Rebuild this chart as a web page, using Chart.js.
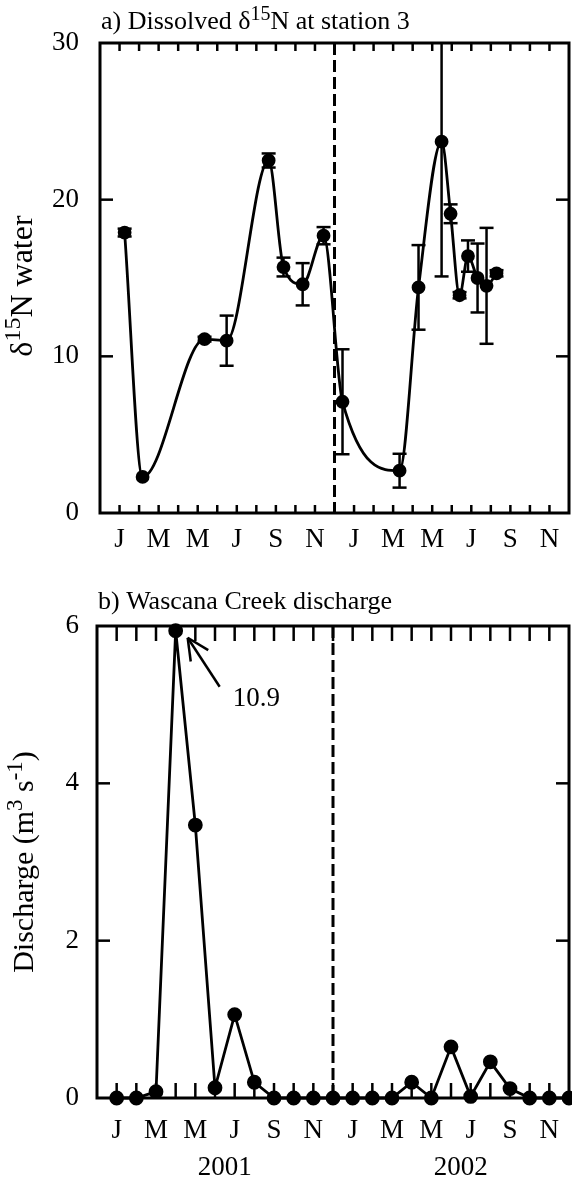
<!DOCTYPE html>
<html>
<head>
<meta charset="utf-8">
<script src="https://cdn.jsdelivr.net/npm/chart.js@4.4.1/dist/chart.umd.min.js"></script>
<style>
  html, body { margin: 0; padding: 0; background: #fff; }
  canvas { position: absolute; left: 0; }
  #g1 { top: 0; }
  #g2 { top: 565px; }
</style>
</head>
<body>
<canvas id="g1" width="572" height="565"></canvas>
<canvas id="g2" width="572" height="614"></canvas>
<script>
// months are counted from Jan 2001 (0) to Dec 2002 (23)
const monthLabels = ["J", "M", "M", "J", "S", "N"];
const years = ["2001", "2002"];

// a) dissolved d15N at station 3 (mean and error)
const d15nMonth = [0.26, 1.18, 4.35, 5.48, 7.63, 8.39, 9.37, 10.44, 11.41, 14.33, 15.3, 16.48, 16.94, 17.4, 17.83, 18.32, 18.78, 19.29];
const d15nValue = [17.9, 2.3, 11.1, 11.0, 22.5, 15.7, 14.6, 17.7, 7.1, 2.7, 14.4, 23.7, 19.1, 13.9, 16.4, 15.0, 14.5, 15.3];
const d15nError = [0.25, 0, 0.15, 1.6, 0.45, 0.6, 1.35, 0.55, 3.35, 1.08, 2.7, 8.6, 0.6, 0.2, 1.0, 2.2, 3.7, 0.2];
const d15nTicks = [0, 10, 20, 30];

// b) Wascana Creek discharge, one value per month
const dischargeMonth = [0, 1, 2, 3, 4, 5, 6, 7, 8, 9, 10, 11, 12, 13, 14, 15, 16, 17, 18, 19, 20, 21, 22, 23];
const discharge = [0, 0, 0.08, 10.9, 3.47, 0.13, 1.06, 0.2, 0, 0, 0, 0, 0, 0, 0, 0.2, 0, 0.65, 0.02, 0.46, 0.12, 0, 0, 0];
const dischargeTicks = [0, 2, 4, 6];
const dischargeMax = 6;

const FONT = '"Liberation Serif", "Times New Roman", serif';

function line(ctx, x1, y1, x2, y2) {
  ctx.beginPath();
  ctx.moveTo(x1, y1);
  ctx.lineTo(x2, y2);
  ctx.stroke();
}

// text with superscripts: parts = [[text, isSup], ...]
function drawRich(ctx, parts, x, y, size, center, supScale) {
  const supSize = Math.round(size * (supScale || 0.72));
  const widthOf = (p) => {
    ctx.font = (p[1] ? supSize : size) + "px " + FONT;
    return ctx.measureText(p[0]).width;
  };
  const total = parts.reduce((s, p) => s + widthOf(p), 0);
  let cx = center ? x - total / 2 : x;
  ctx.textAlign = "left";
  ctx.textBaseline = "alphabetic";
  parts.forEach((p) => {
    const w = widthOf(p);
    ctx.fillText(p[0], cx, p[1] ? y - size * 0.36 : y);
    cx += w;
  });
}

const framePlugin = {
  id: "frame",
  beforeDatasetsDraw(chart, args, opts) {
    const { ctx, chartArea: a, scales } = chart;
    const x = scales.x, y = scales.y;
    ctx.save();
    ctx.strokeStyle = "#000";
    ctx.lineWidth = 2.5;
    x.ticks.forEach((t) => {
      if (t.value <= x.min || t.value >= x.max) return;
      const px = x.getPixelForValue(t.value);
      line(ctx, px, a.bottom, px, a.bottom - opts.xTick);
      line(ctx, px, a.top, px, a.top + opts.xTick);
    });
    y.ticks.forEach((t) => {
      if (t.value <= y.min || t.value >= y.max) return;
      const py = y.getPixelForValue(t.value);
      line(ctx, a.left, py, a.left + opts.yTick, py);
      line(ctx, a.right, py, a.right - opts.yTick, py);
    });
    // year boundary
    ctx.lineWidth = 3;
    ctx.setLineDash([12, 5]);
    const sx = x.getPixelForValue(opts.split);
    line(ctx, sx, a.top, sx, a.bottom);
    ctx.setLineDash([]);
    ctx.strokeRect(a.left, a.top, a.right - a.left, a.bottom - a.top);
    ctx.restore();
  },
  afterDatasetsDraw(chart, args, opts) {
    if (!opts.errors) return;
    const { ctx, chartArea: a, scales } = chart;
    const x = scales.x, y = scales.y;
    ctx.save();
    ctx.beginPath();
    ctx.rect(a.left, a.top - 1, a.right - a.left, a.bottom - a.top + 2);
    ctx.clip();
    ctx.strokeStyle = "#000";
    ctx.lineWidth = 2.5;
    opts.errors.forEach((e, i) => {
      if (!e) return;
      const px = x.getPixelForValue(d15nMonth[i]);
      const hi = y.getPixelForValue(d15nValue[i] + e);
      const lo = y.getPixelForValue(d15nValue[i] - e);
      line(ctx, px, hi, px, lo);
      line(ctx, px - 7, hi, px + 7, hi);
      line(ctx, px - 7, lo, px + 7, lo);
    });
    ctx.restore();
  },
  afterDraw(chart, args, opts) {
    const { ctx, chartArea: a, scales } = chart;
    ctx.save();
    ctx.fillStyle = "#000";
    drawRich(ctx, opts.title, a.left + 1, opts.titleY, 26, false, 0.78);
    ctx.save();
    ctx.translate(opts.yTitleX, opts.yTitleY);
    ctx.rotate(-Math.PI / 2);
    drawRich(ctx, opts.yTitle, 0, 0, opts.yTitleSize, true, 0.75);
    ctx.restore();
    if (opts.years) {
      ctx.font = "27px " + FONT;
      ctx.textAlign = "center";
      ctx.textBaseline = "middle";
      years.forEach((yr, i) => {
        ctx.fillText(yr, scales.x.getPixelForValue(i * 12 + 5.5), opts.yearsY);
      });
    }
    if (opts.offscale) {
      // arrow to the peak that runs off the top of the axis
      const i = discharge.findIndex((v) => v > dischargeMax);
      const pt = chart.getDatasetMeta(0).data[i];
      const tx = pt.x + 12, ty = pt.y + 7;
      const bx = tx + 32, by = ty + 49;
      const ang = Math.atan2(by - ty, bx - tx);
      ctx.strokeStyle = "#000";
      ctx.lineWidth = 2.5;
      line(ctx, tx, ty, bx, by);
      [-0.45, 0.45].forEach((d) => {
        line(ctx, tx, ty, tx + 24 * Math.cos(ang + d), ty + 24 * Math.sin(ang + d));
      });
      ctx.font = "27px " + FONT;
      ctx.textAlign = "left";
      ctx.textBaseline = "alphabetic";
      ctx.fillText(discharge[i].toFixed(1), bx + 13, by + 19);
    }
    ctx.restore();
  },
};

const monthTick = (v) => (v >= 0 && v % 2 === 0 ? monthLabels[(v % 12) / 2] : "");

// tick marks are drawn by the frame plugin; tickLength only offsets the labels
function axes(yMin, yMax, yTicks, yWidth, xHeight, xPad, yPad) {
  return {
    x: {
      type: "linear",
      min: -1,
      max: 23,
      grid: { display: false, drawTicks: true, tickLength: xPad },
      border: { display: false },
      afterBuildTicks: (s) => {
        s.ticks = [];
        for (let m = -1; m <= 23; m++) s.ticks.push({ value: m });
      },
      afterFit: (s) => { s.height = xHeight; },
      ticks: {
        autoSkip: false,
        maxRotation: 0,
        padding: 0,
        color: "#000",
        font: { family: FONT, size: 27 },
        callback: monthTick,
      },
    },
    y: {
      min: yMin,
      max: yMax,
      grid: { display: false, drawTicks: true, tickLength: yPad },
      border: { display: false },
      afterBuildTicks: (s) => { s.ticks = yTicks.map((v) => ({ value: v })); },
      afterFit: (s) => { s.width = yWidth; },
      ticks: {
        padding: 0,
        color: "#000",
        font: { family: FONT, size: 27 },
      },
    },
  };
}

const chart1 = new Chart(document.getElementById("g1"), {
  type: "line",
  data: {
    datasets: [
      {
        data: d15nMonth.map((m, i) => ({ x: m, y: d15nValue[i] })),
        borderColor: "#000",
        borderWidth: 2.8,
        backgroundColor: "#000",
        pointRadius: 5.5,
        pointBackgroundColor: "#000",
        cubicInterpolationMode: "monotone",
      },
    ],
  },
  options: {
    responsive: false,
    animation: false,
    devicePixelRatio: 1,
    layout: { autoPadding: false, padding: { top: 43, right: 3, left: 0, bottom: 0 } },
    scales: axes(0, 30, d15nTicks, 100, 52, 11, 21),
    plugins: {
      legend: { display: false },
      tooltip: { enabled: false },
      frame: {
        xTick: 8,
        yTick: 13,
        split: 11,
        errors: d15nError,
        title: [["a) Dissolved δ", false], ["15", true], ["N at station 3", false]],
        titleY: 29,
        yTitle: [["δ", false], ["15", true], ["N water", false]],
        yTitleSize: 32,
        yTitleX: 32,
        yTitleY: 286,
      },
    },
  },
  plugins: [framePlugin],
});

const chart2 = new Chart(document.getElementById("g2"), {
  type: "line",
  data: {
    datasets: [
      {
        data: dischargeMonth.map((m, i) => ({ x: m, y: Math.min(discharge[i], dischargeMax - 0.06) })),
        borderColor: "#000",
        borderWidth: 2.8,
        backgroundColor: "#000",
        pointRadius: 6,
        pointBackgroundColor: "#000",
        tension: 0,
        clip: false,
      },
    ],
  },
  options: {
    responsive: false,
    animation: false,
    devicePixelRatio: 1,
    layout: { autoPadding: false, padding: { top: 61, right: 3, left: 0, bottom: 0 } },
    scales: axes(0, dischargeMax, dischargeTicks, 97, 81, 17, 18),
    plugins: {
      legend: { display: false },
      tooltip: { enabled: false },
      frame: {
        xTick: 15,
        yTick: 13,
        split: 11,
        title: [["b) Wascana Creek discharge", false]],
        titleY: 44,
        yTitle: [["Discharge (m", false], ["3", true], [" s", false], ["-1", true], [")", false]],
        yTitleSize: 30,
        yTitleX: 33,
        yTitleY: 297,
        years: true,
        yearsY: 603,
        offscale: true,
      },
    },
  },
  plugins: [framePlugin],
});
</script>
</body>
</html>
